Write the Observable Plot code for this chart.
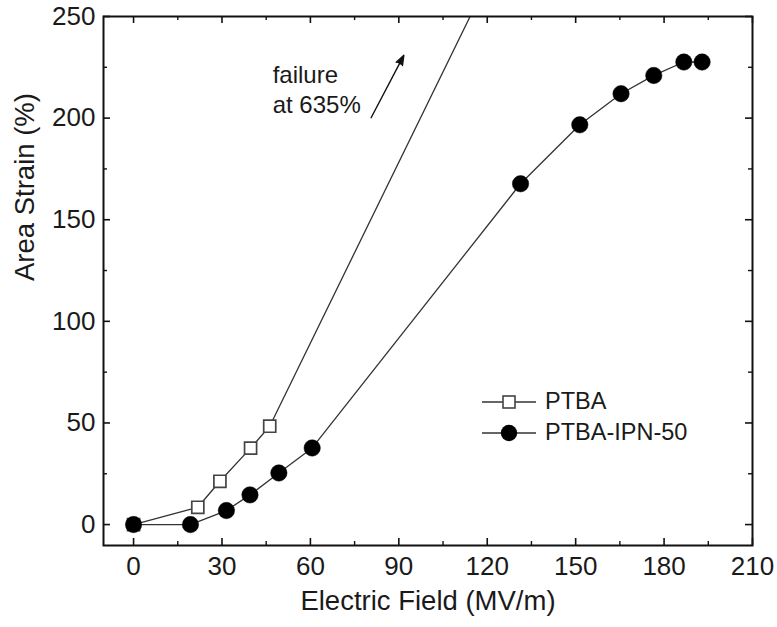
<!DOCTYPE html>
<html><head><meta charset="utf-8">
<script src="https://cdn.jsdelivr.net/npm/d3@7"></script>
<script src="https://cdn.jsdelivr.net/npm/@observablehq/plot@0.6"></script>
<style>
body{margin:0;background:#fff;font-family:"Liberation Sans",Arial,sans-serif;}
#wrap{position:relative;width:777px;height:627px;overflow:hidden;}
#legend{position:absolute;left:478px;top:386px;font-size:23.5px;color:#1a1a1a;line-height:31px;}
#legend .row{display:flex;align-items:center;height:31px;}
#legend svg{display:block;margin-right:7px;}
</style></head><body><div id="wrap"></div>
<script>
// PTBA (open squares)
const ptbaField = [0, 21.8, 29.3, 39.7, 46.2];
const ptbaStrain = [0, 8.5, 21.3, 37.6, 48.4];
// PTBA line continues to the failure point (off chart)
const ptbaFailureField = [244];
const ptbaFailureStrain = [635];
// PTBA-IPN-50 (filled circles)
const ipnField = [0, 19.3, 31.5, 39.5, 49.3, 60.6, 131.3, 151.4, 165.4, 176.5, 186.7, 192.9];
const ipnStrain = [0, 0, 6.9, 14.6, 25.4, 37.7, 167.7, 196.7, 212, 221, 227.6, 227.6];
// ticks
const xTicks = [0, 30, 60, 90, 120, 150, 180, 210];
const xMinorTicks = [15, 45, 75, 105, 135, 165, 195];
const yTicks = [0, 50, 100, 150, 200, 250];
const yMinorTicks = [25, 75, 125, 175, 225];
// annotation
const annText = ["failure\nat 635%"];
const annAt = [{x: 47.2, y: 227.6}];
const arrowFrom = [{x: 80.6, y: 200.2}];
const arrowTo = [{x: 91.7, y: 230.9}];
const seriesNames = ["PTBA", "PTBA-IPN-50"];

const ptba = ptbaField.map((x, i) => ({x, y: ptbaStrain[i]}));
const ptbaLine = ptba.concat(ptbaFailureField.map((x, i) => ({x, y: ptbaFailureStrain[i]})));
const ipn = ipnField.map((x, i) => ({x, y: ipnStrain[i]}));
const arrows = arrowFrom.map((d, i) => ({x1: d.x, y1: d.y, x2: arrowTo[i].x, y2: arrowTo[i].y}));
const ann = annText.map((t, i) => ({t, ...annAt[i]}));

const W = 777, H = 627, mL = 103, mR = 25, mT = 16, mB = 82;
const pw = W - mL - mR, ph = H - mT - mB;
const major = 7, minor = 4;

const chart = Plot.plot({
  width: W, height: H,
  marginLeft: mL, marginRight: mR, marginTop: mT, marginBottom: mB,
  style: {fontFamily: '"Liberation Sans", Arial, sans-serif', color: "#1a1a1a", background: "#fff"},
  x: {domain: [-10.2, 210], label: null},
  y: {domain: [-10.3, 250], label: null},
  marks: [
    Plot.axisX({ticks: xTicks, tickSize: 0, tickPadding: 11, fontSize: 26, label: null}),
    Plot.axisY({ticks: yTicks, tickSize: 0, tickPadding: 8, fontSize: 26, label: null}),
    // inward ticks on all four sides
    Plot.tickX(xTicks, {x: d => d, insetTop: ph - major, stroke: "#111", strokeWidth: 1.6}),
    Plot.tickX(xTicks, {x: d => d, insetBottom: ph - major, stroke: "#111", strokeWidth: 1.6}),
    Plot.tickX(xMinorTicks, {x: d => d, insetTop: ph - minor, stroke: "#111", strokeWidth: 1.4}),
    Plot.tickX(xMinorTicks, {x: d => d, insetBottom: ph - minor, stroke: "#111", strokeWidth: 1.4}),
    Plot.tickY(yTicks, {y: d => d, insetRight: pw - major, stroke: "#111", strokeWidth: 1.6}),
    Plot.tickY(yTicks, {y: d => d, insetLeft: pw - major, stroke: "#111", strokeWidth: 1.6}),
    Plot.tickY(yMinorTicks, {y: d => d, insetRight: pw - minor, stroke: "#111", strokeWidth: 1.4}),
    Plot.tickY(yMinorTicks, {y: d => d, insetLeft: pw - minor, stroke: "#111", strokeWidth: 1.4}),
    Plot.text(["Electric Field (MV/m)"], {frameAnchor: "bottom", dy: 64, fontSize: 27.5, fill: "#1a1a1a"}),
    Plot.text(["Area Strain (%)"], {frameAnchor: "left", dx: -78, rotate: -90, fontSize: 27.5, fill: "#1a1a1a"}),
    Plot.line(ptbaLine, {x: "x", y: "y", stroke: "#333", strokeWidth: 1.3, clip: true}),
    Plot.line(ipn, {x: "x", y: "y", stroke: "#333", strokeWidth: 1.3, clip: true}),
    Plot.dot(ptba, {x: "x", y: "y", symbol: "square", r: 6.8, fill: "#fff", stroke: "#444", strokeWidth: 1.7}),
    Plot.dot(ipn, {x: "x", y: "y", symbol: "circle", r: 8.2, fill: "#000", stroke: "#000", strokeWidth: 0.5}),
    Plot.arrow(arrows, {x1: "x1", y1: "y1", x2: "x2", y2: "y2", stroke: "#111", strokeWidth: 1.4, headLength: 11, headAngle: 40, bend: 0}),
    Plot.text(ann, {x: "x", y: "y", text: "t", textAnchor: "start", lineAnchor: "top", lineHeight: 1.25, fontSize: 24, fill: "#1a1a1a"}),
    Plot.frame({stroke: "#111", strokeWidth: 2})
  ]
});
// filled arrowhead
d3.select(chart).selectAll('g[aria-label="arrow"] path').attr("fill", "#111").attr("stroke-linejoin", "miter");
const wrap = document.getElementById("wrap");
wrap.appendChild(chart);

// legend
const legend = document.createElement("div");
legend.id = "legend";
const shapes = [
  '<rect x="25" y="10" width="12" height="12" fill="#fff" stroke="#444" stroke-width="1.6"/>',
  '<circle cx="31" cy="16" r="8.2" fill="#000"/>'
];
seriesNames.forEach((name, i) => {
  const row = document.createElement("div");
  row.className = "row";
  row.innerHTML = `<svg width="60" height="31"><line x1="4" y1="16" x2="58" y2="16" stroke="#333" stroke-width="1.3"/>${shapes[i]}</svg><span>${name}</span>`;
  legend.appendChild(row);
});
wrap.appendChild(legend);
</script>
</body></html>
